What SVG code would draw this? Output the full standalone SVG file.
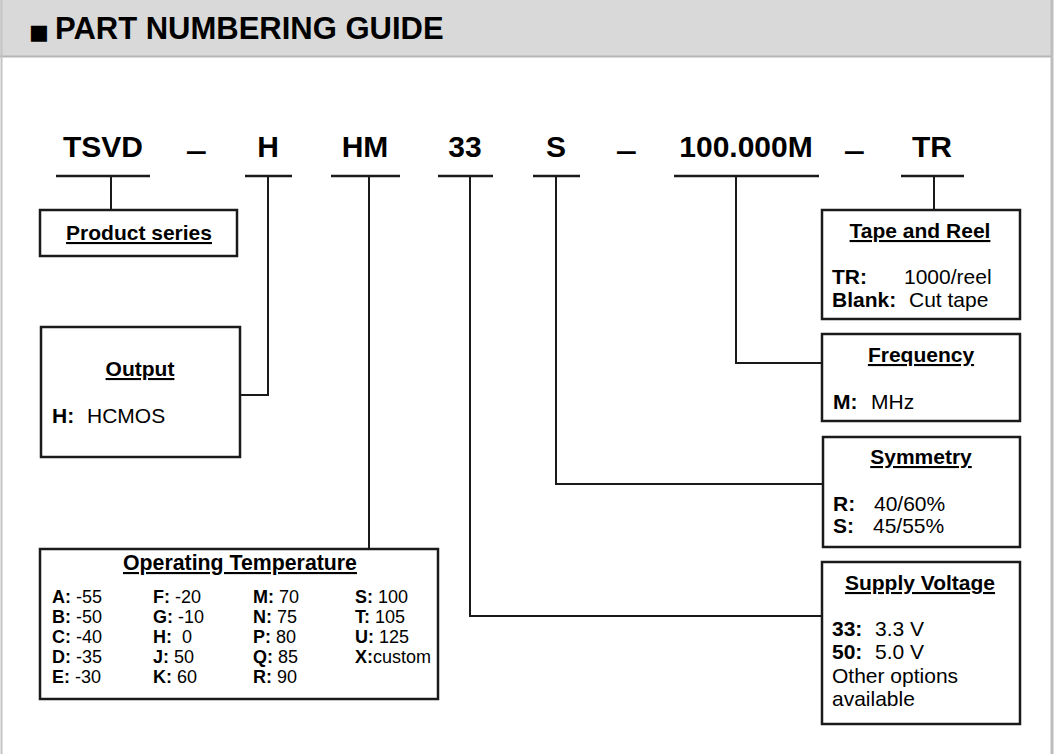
<svg xmlns="http://www.w3.org/2000/svg" width="1055" height="754" viewBox="0 0 1055 754">
<style>
text{font-family:"Liberation Sans",Arial,sans-serif;fill:#000}
.code{font-size:30px;font-weight:bold;text-anchor:middle}
.dash{font-size:30px;font-weight:bold;stroke:#000;stroke-width:1.5}
.ttl{font-size:21px;font-weight:bold;text-anchor:middle;text-decoration:underline}
.b{font-weight:bold}
.body{font-size:21px}
.ot{font-size:18px}
.box{fill:#fff;stroke:#1a1a1a;stroke-width:2.5}
.ul{stroke:#1a1a1a;stroke-width:2.5}
.con{fill:none;stroke:#1a1a1a;stroke-width:2}
</style>
<rect x="0" y="0" width="1055" height="754" fill="#fff"/>
<g id="header">
<rect x="0" y="0" width="1053" height="56" fill="#d9d9d9"/>
<line x1="0" y1="56.5" x2="1053" y2="56.5" stroke="#b5b5b5" stroke-width="2"/>
<line x1="1.5" y1="0" x2="1.5" y2="754" stroke="#c4c4c4" stroke-width="2"/>
<line x1="1052" y1="0" x2="1052" y2="754" stroke="#bdbdbd" stroke-width="3"/>
<text x="29" y="39" font-size="31" font-weight="bold"><tspan font-family="DejaVu Sans" font-size="21">■</tspan><tspan x="55">PART NUMBERING GUIDE</tspan></text>
</g>
<g id="code">
<text class="code" x="103" y="157">TSVD</text>
<text class="dash" x="188" y="150">_</text>
<text class="code" x="268" y="157">H</text>
<text class="code" x="365" y="157">HM</text>
<text class="code" x="465" y="157">33</text>
<text class="code" x="556" y="157">S</text>
<text class="dash" x="618" y="150">_</text>
<text class="code" x="746" y="157">100.000M</text>
<text class="dash" x="846" y="150">_</text>
<text class="code" x="932" y="157">TR</text>
<line class="ul" x1="56" y1="176" x2="150" y2="176"/>
<line class="ul" x1="245" y1="176" x2="292" y2="176"/>
<line class="ul" x1="331" y1="176" x2="400" y2="176"/>
<line class="ul" x1="438" y1="176" x2="493" y2="176"/>
<line class="ul" x1="533" y1="176" x2="580" y2="176"/>
<line class="ul" x1="674" y1="176" x2="819" y2="176"/>
<line class="ul" x1="901" y1="176" x2="964" y2="176"/>
</g>
<g id="connectors">
<path class="con" d="M111 176V210"/>
<path class="con" d="M268 176V395H240"/>
<path class="con" d="M369 176V550"/>
<path class="con" d="M470 176V616H822"/>
<path class="con" d="M556 176V484H823"/>
<path class="con" d="M736 176V363H822"/>
<path class="con" d="M934 176V210"/>
</g>
<g id="product-series">
<rect class="box" x="40" y="210" width="197" height="46"/>
<text class="ttl" x="139" y="240">Product series</text>
</g>
<g id="output">
<rect class="box" x="41" y="327" width="199" height="130"/>
<text class="ttl" x="140" y="376">Output</text>
<text class="body" y="423"><tspan class="b" x="52">H:</tspan><tspan x="87">HCMOS</tspan></text>
</g>
<g id="operating-temperature">
<rect class="box" x="40" y="549" width="398" height="150"/>
<text class="ttl" x="240" y="570" style="font-size:21.3px">Operating Temperature</text>
<text class="ot" x="52" y="603"><tspan class="b">A:</tspan> -55</text>
<text class="ot" x="52" y="623"><tspan class="b">B:</tspan> -50</text>
<text class="ot" x="52" y="643"><tspan class="b">C:</tspan> -40</text>
<text class="ot" x="52" y="663"><tspan class="b">D:</tspan> -35</text>
<text class="ot" x="52" y="683"><tspan class="b">E:</tspan> -30</text>
<text class="ot" x="153" y="603"><tspan class="b">F:</tspan> -20</text>
<text class="ot" x="153" y="623"><tspan class="b">G:</tspan> -10</text>
<text class="ot" x="153" y="643" xml:space="preserve"><tspan class="b">H:</tspan>  0</text>
<text class="ot" x="153" y="663"><tspan class="b">J:</tspan> 50</text>
<text class="ot" x="153" y="683"><tspan class="b">K:</tspan> 60</text>
<text class="ot" x="253" y="603"><tspan class="b">M:</tspan> 70</text>
<text class="ot" x="253" y="623"><tspan class="b">N:</tspan> 75</text>
<text class="ot" x="253" y="643"><tspan class="b">P:</tspan> 80</text>
<text class="ot" x="253" y="663"><tspan class="b">Q:</tspan> 85</text>
<text class="ot" x="253" y="683"><tspan class="b">R:</tspan> 90</text>
<text class="ot" x="355" y="603"><tspan class="b">S:</tspan> 100</text>
<text class="ot" x="355" y="623"><tspan class="b">T:</tspan> 105</text>
<text class="ot" x="355" y="643"><tspan class="b">U:</tspan> 125</text>
<text class="ot" x="355" y="663"><tspan class="b">X:</tspan>custom</text>
</g>
<g id="tape-and-reel">
<rect class="box" x="822" y="210" width="198" height="109"/>
<text class="ttl" x="920" y="238">Tape and Reel</text>
<text class="body" y="284"><tspan class="b" x="832">TR:</tspan><tspan x="904">1000/reel</tspan></text>
<text class="body" y="307"><tspan class="b" x="832">Blank:</tspan><tspan x="909">Cut tape</tspan></text>
</g>
<g id="frequency">
<rect class="box" x="822" y="334" width="198" height="87"/>
<text class="ttl" x="921" y="362">Frequency</text>
<text class="body" y="409"><tspan class="b" x="833">M:</tspan><tspan x="871">MHz</tspan></text>
</g>
<g id="symmetry">
<rect class="box" x="823" y="437" width="197" height="110"/>
<text class="ttl" x="921" y="464">Symmetry</text>
<text class="body" y="511"><tspan class="b" x="833">R:</tspan><tspan x="874">40/60%</tspan></text>
<text class="body" y="533"><tspan class="b" x="833">S:</tspan><tspan x="873">45/55%</tspan></text>
</g>
<g id="supply-voltage">
<rect class="box" x="822" y="562" width="198" height="162"/>
<text class="ttl" x="920" y="590">Supply Voltage</text>
<text class="body" y="636"><tspan class="b" x="832">33:</tspan><tspan x="875">3.3 V</tspan></text>
<text class="body" y="659"><tspan class="b" x="832">50:</tspan><tspan x="875">5.0 V</tspan></text>
<text class="body" x="832" y="683">Other options</text>
<text class="body" x="832" y="706">available</text>
</g>
</svg>
